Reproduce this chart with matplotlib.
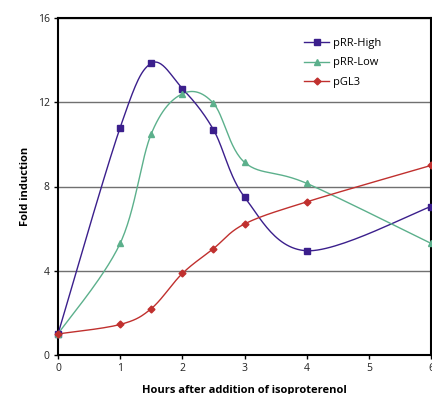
import matplotlib
matplotlib.use("Agg")
import matplotlib.pyplot as plt
import numpy as np

hours = [0, 1, 1.5, 2, 2.5, 3, 4, 6]
rr_high = [1.0, 10.8, 13.85, 12.65, 10.7, 7.5, 4.95, 7.05]
rr_low = [1.0, 5.3, 10.5, 12.4, 11.95, 9.15, 8.15, 5.3]
gl3 = [1.0, 1.45, 2.2, 3.87, 5.05, 6.22, 7.27, 9.0]
names = ["pRR-High", "pRR-Low", "pGL3"]
colors = ["#3b1f8c", "#5cb08c", "#c0302e"]
markers = ["s", "^", "D"]


def smooth(x, y, n=30):
    # catmull-rom through the points, like excel's smoothed lines
    p = np.column_stack([x, y]).astype(float)
    p = np.vstack([p[0], p, p[-1]])
    out = []
    t = np.linspace(0, 1, n)[:, None]
    for i in range(1, len(p) - 2):
        p0, p1, p2, p3 = p[i - 1], p[i], p[i + 1], p[i + 2]
        c1 = p1 + (p2 - p0) / 6
        c2 = p2 - (p3 - p1) / 6
        seg = ((1 - t) ** 3) * p1 + 3 * ((1 - t) ** 2) * t * c1 + 3 * (1 - t) * t ** 2 * c2 + t ** 3 * p2
        out.append(seg)
    out = np.vstack(out)
    return out[:, 0], out[:, 1]


plt.rcParams['font.family'] = ['Open Sans', 'DejaVu Sans']
fig = plt.figure(figsize=(4.32, 3.94), dpi=100)
ax = fig.add_axes([58 / 432, 1 - 355 / 394, 373 / 432, 337 / 394])

for ys, name, c, m in zip([rr_high, rr_low, gl3], names, colors, markers):
    sx, sy = smooth(hours, ys)
    ax.plot(sx, sy, color=c, lw=1.0, zorder=3)
    ms = 5 if m == "s" else (5 if m == "^" else 3.5)
    ax.plot(hours, ys, ls="none", marker=m, ms=ms, color=c, zorder=4, clip_on=False)
    ax.plot([], [], color=c, lw=1.0, marker=m, ms=ms, label=name)

ax.set_xlim(0, 6)
ax.set_ylim(0, 16)
ax.set_xticks(range(7))
ax.set_yticks([0, 4, 8, 12, 16])
ax.grid(axis="y", color="#707070", lw=1.0)
ax.set_axisbelow(True)
for s in ax.spines.values():
    s.set_linewidth(1.5)
ax.tick_params(labelsize=7.5, length=3, width=1, color="black", labelcolor="#222222", pad=3)

ax.set_xlabel("Hours after addition of isoproterenol", fontsize=8, fontweight="bold", labelpad=8)
ax.set_ylabel("Fold induction", fontsize=8, fontweight="bold", labelpad=5)

ax.legend(loc="upper left", bbox_to_anchor=(0.632, 0.97), frameon=False, fontsize=8,
          handlelength=2.3, handletextpad=0.3, labelspacing=0.75)

fig.savefig("out.png", dpi=100)
